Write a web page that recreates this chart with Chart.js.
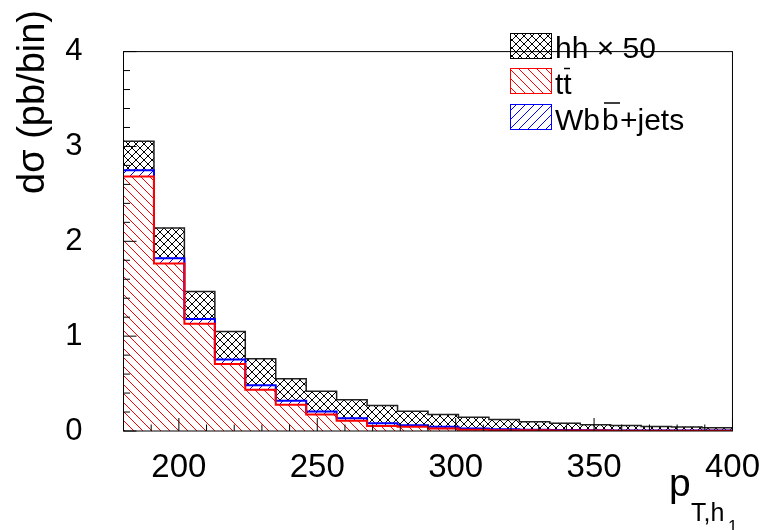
<!DOCTYPE html>
<html>
<head>
<meta charset="utf-8">
<script src="https://cdn.jsdelivr.net/npm/chart.js@4"></script>
<style>
  html, body { margin: 0; padding: 0; background: #fff; }
  canvas { display: block; }
</style>
</head>
<body>
<canvas id="ptChart" width="769" height="530"></canvas>
<script>
// bin edges in GeV (20 bins, 11 GeV wide)
const binEdges = [180, 191, 202, 213, 224, 235, 246, 257, 268, 279, 290,
                  301, 312, 323, 334, 345, 356, 367, 378, 389, 400];
// ttbar (bottom of the stack)
const ttbarVals = [2.683, 1.765, 1.130, 0.706, 0.434, 0.277, 0.173, 0.108, 0.053, 0.045,
                   0.027, 0.013, 0.009, 0.007, 0.005, 0.004, 0.003, 0.003, 0.002, 0.002];
// Wbb+jets (stacked on ttbar)
const wbbVals = [0.065, 0.055, 0.050, 0.049, 0.049, 0.043, 0.033, 0.026, 0.028, 0.015,
                 0.017, 0.014, 0.009, 0.006, 0.005, 0.004, 0.003, 0.002, 0.002, 0.002];
// signal hh, scaled by 50 (top of the stack)
const hhVals = [0.308, 0.320, 0.290, 0.295, 0.279, 0.232, 0.213, 0.196, 0.189, 0.147,
                0.130, 0.117, 0.102, 0.085, 0.073, 0.059, 0.051, 0.043, 0.039, 0.031];
const xTickLabels = [200, 250, 300, 350, 400];
const yTickLabels = [0, 1, 2, 3, 4];

const FONT = '"Liberation Sans", Arial, Helvetica, sans-serif';

const canvas = document.getElementById('ptChart');
const ctx = canvas.getContext('2d');

// hatch fills like ROOT fill styles
function makeHatch(color, dir, size) {
    const c = document.createElement('canvas');
    c.width = size; c.height = size;
    const g = c.getContext('2d');
    g.strokeStyle = color;
    g.lineWidth = 1;
    g.beginPath();
    for (let k = -1; k <= 1; k++) {
        if (dir === '\\' || dir === 'x') { g.moveTo(k * size, 0); g.lineTo(k * size + size, size); }
        if (dir === '/' || dir === 'x') { g.moveTo(k * size, size); g.lineTo(k * size + size, 0); }
    }
    g.stroke();
    return ctx.createPattern(c, 'repeat');
}
const hatchTT = makeHatch('#ff0000', '\\', 9);
const hatchWbb = makeHatch('#0000ff', '/', 9);
const hatchHH = makeHatch('#000000', 'x', 8);

const centers = binEdges.slice(0, -1).map((e, i) => (e + binEdges[i + 1]) / 2);
const barData = vals => vals.map((v, i) => ({ x: centers[i], y: v }));

// cumulative tops for the step outlines
const topTT = ttbarVals.slice();
const topWbb = ttbarVals.map((v, i) => v + wbbVals[i]);
const topHH = topWbb.map((v, i) => v + hhVals[i]);
// one point per edge, holding the bin that starts there (last edge repeats the last bin)
const stepData = tops => binEdges.map((e, i) => ({ x: e, y: tops[Math.min(i, tops.length - 1)] }));

// frame, inward ticks, titles and the legend
const rootDeco = {
    id: 'rootDeco',
    afterDatasetsDraw(chart) {
        const c = chart.ctx;
        const a = chart.chartArea;
        const xs = chart.scales.x, ys = chart.scales.y;
        c.save();
        c.strokeStyle = '#000';
        c.lineWidth = 1;
        c.beginPath();
        for (let v = 180; v <= 400; v += 10) {
            const px = xs.getPixelForValue(v);
            const len = v % 50 === 0 ? 13 : 6.5;
            c.moveTo(px, a.bottom); c.lineTo(px, a.bottom - len);
        }
        for (let k = 0; k <= 20; k++) {
            const py = ys.getPixelForValue(k * 0.2);
            const len = k % 5 === 0 ? 13 : 6.5;
            c.moveTo(a.left, py); c.lineTo(a.left + len, py);
        }
        c.stroke();
        c.strokeRect(a.left, a.top, a.right - a.left, a.bottom - a.top);
        c.restore();
    },
    afterDraw(chart) {
        const c = chart.ctx;
        c.save();
        c.fillStyle = '#000';

        // y title
        c.save();
        c.translate(44, 10);
        c.rotate(-Math.PI / 2);
        c.font = '38px ' + FONT;
        c.textAlign = 'right';
        c.textBaseline = 'alphabetic';
        c.fillText('d\u03c3 (pb/bin)', 0, 0);
        c.restore();

        // x title p_{T,h_1}
        c.textAlign = 'left';
        c.textBaseline = 'alphabetic';
        c.font = '39px ' + FONT;
        c.fillText('p', 669, 496);
        c.font = '25px ' + FONT;
        c.fillText('T,h', 691, 521);
        c.font = '17px ' + FONT;
        c.fillText('1', 728, 532);

        // legend
        const entries = [
            { fill: hatchHH, line: '#000', y: 33.5 },
            { fill: hatchTT, line: '#ff0000', y: 68.5 },
            { fill: hatchWbb, line: '#0000ff', y: 104.5 }
        ];
        entries.forEach(en => {
            c.fillStyle = en.fill;
            c.fillRect(510.5, en.y, 41, 25);
            c.strokeStyle = en.line;
            c.lineWidth = 1;
            c.strokeRect(510.5, en.y, 41, 25);
        });
        c.fillStyle = '#000';
        c.strokeStyle = '#000';
        c.font = '30px ' + FONT;
        c.fillText('hh \u00d7 50', 555, 58);
        c.fillText('tt', 555, 94);
        c.fillText('Wb', 555, 130);
        c.fillText('b', 602, 130);
        c.fillText('+jets', 620, 130);
        // bars over the antiparticles
        c.lineWidth = 1.5;
        c.beginPath();
        c.moveTo(564, 68.5); c.lineTo(570, 68.5);
        c.moveTo(604, 103); c.lineTo(620, 103);
        c.stroke();
        c.restore();
    }
};

new Chart(canvas, {
    type: 'bar',
    data: {
        datasets: [
            // outlines first so they sit on top of the hatching
            { type: 'line', data: stepData(topTT), stepped: 'before', stack: 'o1', borderColor: '#ff0000', borderWidth: 2, pointRadius: 0, fill: false, order: 0 },
            { type: 'line', data: stepData(topWbb), stepped: 'before', stack: 'o2', borderColor: '#0000ff', borderWidth: 2, pointRadius: 0, fill: false, order: 1 },
            { type: 'line', data: stepData(topHH), stepped: 'before', stack: 'o3', borderColor: '#222', borderWidth: 1.5, pointRadius: 0, fill: false, order: 2 },
            { label: 'tt', data: barData(ttbarVals), backgroundColor: hatchTT, order: 5 },
            { label: 'Wbb+jets', data: barData(wbbVals), backgroundColor: hatchWbb, order: 5 },
            { label: 'hh x 50', data: barData(hhVals), backgroundColor: hatchHH, order: 5 }
        ]
    },
    options: {
        responsive: false,
        animation: false,
        devicePixelRatio: 1,
        layout: { padding: { top: 22, right: 32, left: 0, bottom: 0 } },
        datasets: { bar: { barPercentage: 1, categoryPercentage: 1, borderWidth: 0 } },
        plugins: { legend: { display: false }, tooltip: { enabled: false } },
        scales: {
            x: {
                type: 'linear',
                min: 180,
                max: 400,
                offset: false,
                stacked: true,
                grid: { display: false, offset: false },
                border: { display: false },
                ticks: {
                    stepSize: 50,
                    includeBounds: false,
                    autoSkip: false,
                    maxRotation: 0,
                    padding: 9,
                    color: '#000',
                    font: { family: FONT, size: 33 },
                    callback: v => xTickLabels.includes(v) ? String(v) : ''
                },
                afterFit: s => { s.height = 99; }
            },
            y: {
                min: 0,
                max: 4,
                stacked: true,
                grid: { display: false },
                border: { display: false },
                ticks: {
                    stepSize: 1,
                    padding: 33,
                    color: '#000',
                    font: { family: FONT, size: 31 },
                    callback: v => yTickLabels.includes(v) ? String(v) : ''
                },
                afterFit: s => { s.width = 123.5; }
            }
        }
    },
    plugins: [rootDeco]
});
</script>
</body>
</html>
